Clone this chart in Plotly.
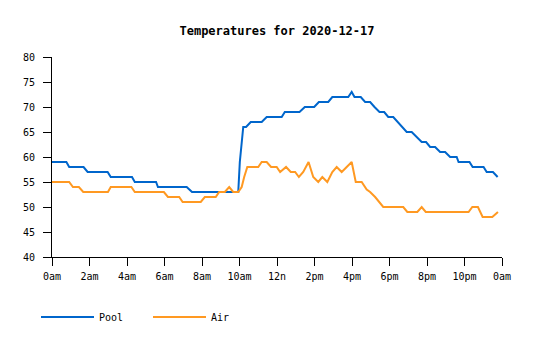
import plotly.graph_objects as go

DAY = "2020-12-17"
NEXT_DAY = "2020-12-18"

# Pool temperature readings (time of day, degrees)
pool_times = [
    "00:00", "00:46", "00:55", "01:41", "01:54", "02:58", "03:08", "04:16",
    "04:25", "05:33", "05:39", "07:11", "07:28", "09:56", "10:01", "10:07",
    "10:12", "10:21", "10:36", "11:11", "11:27", "12:15", "12:25", "13:12",
    "13:29", "13:59", "14:14", "14:44", "14:57", "15:48", "15:59", "16:08",
    "16:28", "16:42", "16:58", "17:12", "17:28", "17:43", "17:56", "18:12",
    "18:27", "18:42", "18:55", "19:11", "19:27", "19:43", "19:57", "20:10",
    "20:26", "20:42", "20:58", "21:14", "21:35", "21:41", "22:16", "22:26",
    "23:01", "23:11", "23:31", "23:46",
]
pool_temps = [
    59, 59, 58, 58, 57, 57, 56, 56,
    55, 55, 54, 54, 53, 53, 59, 63,
    66, 66, 67, 67, 68, 68, 69, 69,
    70, 70, 71, 71, 72, 72, 73, 72,
    72, 71, 71, 70, 69, 69, 68, 68,
    67, 66, 65, 65, 64, 63, 63, 62,
    62, 61, 61, 60, 60, 59, 59, 58,
    58, 57, 57, 56,
]

# Air temperature readings (time of day, degrees)
air_times = [
    "00:00", "00:55", "01:07", "01:26", "01:40", "02:59", "03:08", "04:14",
    "04:25", "05:58", "06:11", "06:47", "06:58", "07:56", "08:09", "08:44",
    "08:55", "09:13", "09:27", "09:40", "09:56", "10:07", "10:15", "10:25",
    "11:00", "11:11", "11:27", "11:41", "11:59", "12:10", "12:29", "12:44",
    "12:58", "13:10", "13:24", "13:41", "13:56", "14:12", "14:25", "14:41",
    "14:57", "15:11", "15:27", "15:43", "15:59", "16:12", "16:31", "16:47",
    "16:58", "17:14", "17:27", "17:40", "18:44", "18:57", "19:29", "19:43",
    "19:56", "22:13", "22:25", "22:43", "22:58", "23:29", "23:47",
]
air_temps = [
    55, 55, 54, 54, 53, 53, 54, 54,
    53, 53, 52, 52, 51, 51, 52, 52,
    53, 53, 54, 53, 53, 54, 56, 58,
    58, 59, 59, 58, 58, 57, 58, 57,
    57, 56, 57, 59, 56, 55, 56, 55,
    57, 58, 57, 58, 59, 55, 55, 53.5,
    53, 52, 51, 50, 50, 49, 49, 50,
    49, 49, 50, 50, 48, 48, 49,
]

# Axis ticks every two hours
tick_hours = ["00:00", "02:00", "04:00", "06:00", "08:00", "10:00", "12:00",
              "14:00", "16:00", "18:00", "20:00", "22:00"]
tick_labels = ["0am", "2am", "4am", "6am", "8am", "10am", "12n",
               "2pm", "4pm", "6pm", "8pm", "10pm", "0am"]

MONO = "DejaVu Sans Mono, Liberation Mono, monospace"


def stamp(t):
    return f"{DAY} {t}"


fig = go.Figure()
fig.add_trace(go.Scatter(
    x=[stamp(t) for t in pool_times], y=pool_temps, name="Pool",
    mode="lines", line=dict(color="#0066cc", width=2),
))
fig.add_trace(go.Scatter(
    x=[stamp(t) for t in air_times], y=air_temps, name="Air",
    mode="lines", line=dict(color="#ff9922", width=2),
))

axis_style = dict(
    showline=True, linecolor="black", linewidth=1,
    ticks="outside", ticklen=8, tickcolor="black", tickwidth=1,
    showgrid=False, zeroline=False,
    tickfont=dict(family=MONO, size=10, color="black"),
)

fig.update_layout(
    width=535, height=340,
    margin=dict(l=52, r=33, t=57, b=83, pad=0),
    paper_bgcolor="white", plot_bgcolor="white",
    title=dict(
        text="<b>Temperatures for 2020-12-17</b>",
        font=dict(family=MONO, size=12, color="black"),
        x=0.5, xref="paper", xanchor="center",
        y=1 - 31 / 340, yref="container", yanchor="middle",
    ),
    xaxis=dict(
        axis_style, type="date",
        range=[stamp("00:00"), f"{NEXT_DAY} 00:00"],
        tickvals=[stamp(t) for t in tick_hours] + [f"{NEXT_DAY} 00:00"],
        ticktext=tick_labels,
        ticklabelstandoff=2,
    ),
    yaxis=dict(
        axis_style, range=[40, 80], dtick=5, tick0=40,
        ticklabelstandoff=6,
    ),
    legend=dict(
        orientation="h",
        xref="container", yref="container",
        x=36 / 535, xanchor="left",
        y=1 - 317 / 340, yanchor="middle",
        font=dict(family=MONO, size=10, color="black"),
        itemwidth=53,
        entrywidth=44, entrywidthmode="pixels",
        bgcolor="rgba(0,0,0,0)",
    ),
    showlegend=True,
)

fig.write_html("out.html")
